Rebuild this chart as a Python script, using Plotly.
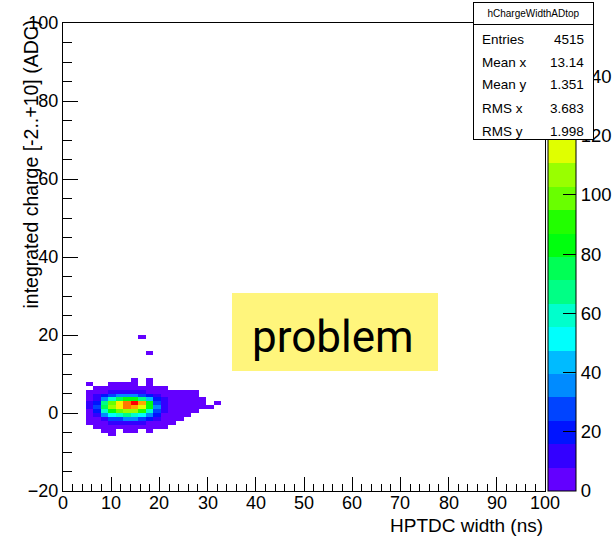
import colorsys
import plotly.graph_objects as go

# ---------------------------------------------------------------- canvas
W, H = 612, 537
FRAME_L, FRAME_R, FRAME_T, FRAME_B = 63, 545, 23, 491   # plot frame, px

# ---------------------------------------------------------------- binning
X_MIN, X_MAX, X_NBINS = 0.0, 100.0, 64
Y_MIN, Y_MAX, Y_NBINS = -20.0, 100.0, 120
Z_MAX = 158
x_tick_values = [0, 10, 20, 30, 40, 50, 60, 70, 80, 90, 100]

# ---------------------------------------------------------------- data
# bin contents of hChargeWidthADtop around the signal cluster
FIRST_XBIN = 2                                  # index of first column below
charge_rows = [8, 7, 6, 5, 4, 3, 2, 1, 0, -1, -2, -3, -4, -5, -6]   # lower edge of each charge bin
bin_counts = [
    # x-bin: 2  3  4   5    6    7    8    9   10  11  12  13 14 15 16 17 18 19 20 21
    [0, 0, 0, 0, 0, 0, 0, 2, 0, 1, 0, 0, 0, 0, 0, 0, 0, 0, 0, 0],          # 8
    [0, 1, 0, 0, 1, 2, 2, 1, 0, 1, 0, 0, 0, 0, 0, 0, 0, 0, 0, 0],          # 7
    [0, 0, 1, 2, 3, 4, 5, 4, 3, 2, 1, 1, 0, 0, 0, 0, 0, 0, 0, 0],          # 6
    [0, 2, 4, 7, 10, 12, 14, 13, 11, 7, 4, 2, 2, 1, 1, 1, 0, 0, 0, 0],     # 5
    [0, 3, 8, 17, 28, 35, 38, 36, 30, 20, 10, 5, 3, 3, 2, 1, 0, 0, 0, 0],  # 4
    [0, 5, 14, 36, 62, 76, 84, 80, 66, 44, 20, 9, 5, 4, 3, 2, 1, 0, 0, 0],  # 3
    [0, 8, 22, 66, 100, 124, 140, 156, 132, 86, 30, 12, 6, 4, 3, 2, 1, 0, 1, 0],  # 2
    [0, 9, 26, 72, 106, 126, 142, 128, 112, 82, 32, 13, 6, 4, 3, 2, 2, 1, 0, 0],  # 1
    [0, 7, 22, 58, 86, 102, 110, 104, 88, 60, 26, 10, 5, 3, 2, 1, 0, 0, 0, 0],   # 0
    [0, 5, 14, 34, 52, 62, 66, 63, 54, 38, 16, 7, 3, 2, 1, 0, 0, 0, 0, 0],  # -1
    [0, 2, 7, 15, 25, 31, 34, 32, 27, 18, 8, 3, 2, 1, 0, 0, 0, 0, 0, 0],    # -2
    [0, 1, 3, 6, 10, 13, 14, 13, 11, 7, 3, 2, 1, 0, 0, 0, 0, 0, 0, 0],      # -3
    [0, 0, 1, 2, 3, 4, 5, 4, 3, 2, 1, 1, 0, 0, 0, 0, 0, 0, 0, 0],           # -4
    [0, 0, 0, 1, 1, 0, 1, 1, 0, 1, 0, 0, 0, 0, 0, 0, 0, 0, 0, 0],           # -5
    [0, 0, 0, 0, 1, 0, 0, 0, 0, 0, 0, 0, 0, 0, 0, 0, 0, 0, 0, 0],           # -6
]
# isolated entries far above the cluster
stray_xbin = [10, 11]
stray_charge = [19, 15]
stray_counts = [1, 1]

# statistics box
stats_title = "hChargeWidthADtop"
stats_labels = ["Entries", "Mean x", "Mean y", "RMS x", "RMS y"]
stats_values = ["4515", "13.14", "1.351", "3.683", "1.998"]

x_title = "HPTDC width (ns)"
y_title = "integrated charge [-2..+10] (ADC)"
note_text = "problem"

# ---------------------------------------------------------------- grid
xw = (X_MAX - X_MIN) / X_NBINS
yw = (Y_MAX - Y_MIN) / Y_NBINS
x_centers = [X_MIN + (i + 0.5) * xw for i in range(X_NBINS)]
y_centers = [Y_MIN + (j + 0.5) * yw for j in range(Y_NBINS)]
z = [[None] * X_NBINS for _ in range(Y_NBINS)]
for charge, row in zip(charge_rows, bin_counts):
    jy = int(round((charge - Y_MIN) / yw))
    for i, n in enumerate(row):
        if n > 0:
            z[jy][FIRST_XBIN + i] = n
for kx, charge, n in zip(stray_xbin, stray_charge, stray_counts):
    z[int(round((charge - Y_MIN) / yw))][kx] = n

# ---------------------------------------------------------------- palette
# violet -> red spectrum, 20 contour levels picked from a 50-colour HLS table
N_LEVELS, N_PAL = 20, 50
level_colors = []
for lev in range(N_LEVELS):
    idx = int((lev + 0.99) * N_PAL / N_LEVELS)
    hue = 280.0 - (idx + 1) * 280.0 / N_PAL if idx < N_PAL - 1 else 0.0
    r, g, b = colorsys.hls_to_rgb(hue / 360.0, 0.5, 1.0)
    level_colors.append("#%02x%02x%02x" % (round(r * 255), round(g * 255), round(b * 255)))
colorscale = []
for lev, c in enumerate(level_colors):
    colorscale.append([lev / N_LEVELS, c])
    colorscale.append([(lev + 1) / N_LEVELS, c])

FONT = "Liberation Sans, Arial, Helvetica, sans-serif"
PW = FRAME_R - FRAME_L
PH = FRAME_B - FRAME_T


def fx(px):
    return (px - FRAME_L) / PW


def fy(py):
    return (FRAME_B - py) / PH


fig = go.Figure()
fig.add_trace(go.Heatmap(
    x=x_centers, y=y_centers, z=z,
    zmin=0, zmax=Z_MAX, colorscale=colorscale,
    hoverongaps=False,
    colorbar=dict(
        x=fx(547.5), xanchor="left", xpad=0, ypad=0,
        y=0.5, yanchor="middle", len=1, lenmode="fraction",
        thickness=28, thicknessmode="pixels",
        outlinewidth=1, outlinecolor="black",
        ticks="inside", ticklen=13, tickwidth=1.2, tickcolor="black",
        tick0=0, dtick=20,
        tickfont=dict(family=FONT, size=18.5, color="black"),
    ),
))

axis_common = dict(
    showline=True, mirror=True, linecolor="black", linewidth=1.2,
    ticks="inside", tickcolor="black", tickwidth=1.2,
    showgrid=False, zeroline=False,
    tickfont=dict(family=FONT, size=18, color="black"),
)
fig.update_xaxes(range=[X_MIN, X_MAX], tickvals=x_tick_values, ticklen=14, showticklabels=False,
                 minor=dict(dtick=2, ticks="inside", ticklen=7, tickcolor="black", tickwidth=1),
                 **axis_common)
fig.update_yaxes(range=[Y_MIN, Y_MAX], tick0=0, dtick=20, ticklen=15,
                 minor=dict(dtick=5, ticks="inside", ticklen=9, tickcolor="black", tickwidth=1),
                 **axis_common)

ann = []
# x tick labels, set just under the frame
for v in x_tick_values:
    ann.append(dict(text=str(v), x=v, xref="x", y=fy(503), yref="paper",
                    xanchor="center", yanchor="middle",
                    font=dict(family=FONT, size=18, color="black")))
# axis titles (right / top aligned)
ann.append(dict(text=x_title, x=fx(FRAME_R), y=fy(525), xanchor="right", yanchor="middle",
                font=dict(family=FONT, size=19, color="black")))
ann.append(dict(text=y_title, x=fx(30), y=fy(18), xanchor="center", yanchor="top",
                textangle=-90, font=dict(family=FONT, size=19.5, color="black")))

# statistics box
SB_L, SB_R, SB_T, SB_B, SB_SEP = 473, 594, 2, 140, 25
ann.append(dict(text=" ", x=fx(SB_L), y=fy(SB_T), xanchor="left", yanchor="top",
                width=SB_R - SB_L - 2, height=SB_B - SB_T - 2, borderpad=0, borderwidth=1,
                bordercolor="black", bgcolor="white"))
ann.append(dict(text=stats_title, x=fx(SB_L), y=fy(SB_T), xanchor="left", yanchor="top",
                width=SB_R - SB_L - 2, height=SB_SEP - SB_T - 2, borderpad=0, borderwidth=1,
                bordercolor="black", bgcolor="white",
                font=dict(family=FONT, size=10, color="black")))
row_y = [40, 62, 85, 108, 131]
for lab, val, yy in zip(stats_labels, stats_values, row_y):
    ann.append(dict(text=lab, x=fx(480), y=fy(yy), xanchor="left", yanchor="middle",
                    font=dict(family=FONT, size=13.5, color="black")))
    ann.append(dict(text=val, x=fx(586), y=fy(yy), xanchor="right", yanchor="middle",
                    font=dict(family=FONT, size=13.5, color="black")))

# highlighted note
NB_L, NB_R, NB_T, NB_B = 232, 438, 293, 371
ann.append(dict(text=" ", x=fx(NB_L), y=fy(NB_T), xanchor="left", yanchor="top",
                width=NB_R - NB_L, height=NB_B - NB_T, borderpad=0, borderwidth=0,
                bgcolor="#fff57c"))
ann.append(dict(text=note_text, x=fx(333), y=fy(337), xanchor="center", yanchor="middle",
                font=dict(family="Roboto, sans-serif", size=44, color="black")))

for a in ann:
    a.setdefault("xref", "paper")
    a.setdefault("yref", "paper")
    a["showarrow"] = False

fig.update_layout(
    width=W, height=H,
    margin=dict(l=FRAME_L, r=W - FRAME_R, t=FRAME_T, b=H - FRAME_B, pad=0, autoexpand=False),
    paper_bgcolor="white", plot_bgcolor="white",
    annotations=ann,
    showlegend=False,
)

fig.write_html("out.html")
